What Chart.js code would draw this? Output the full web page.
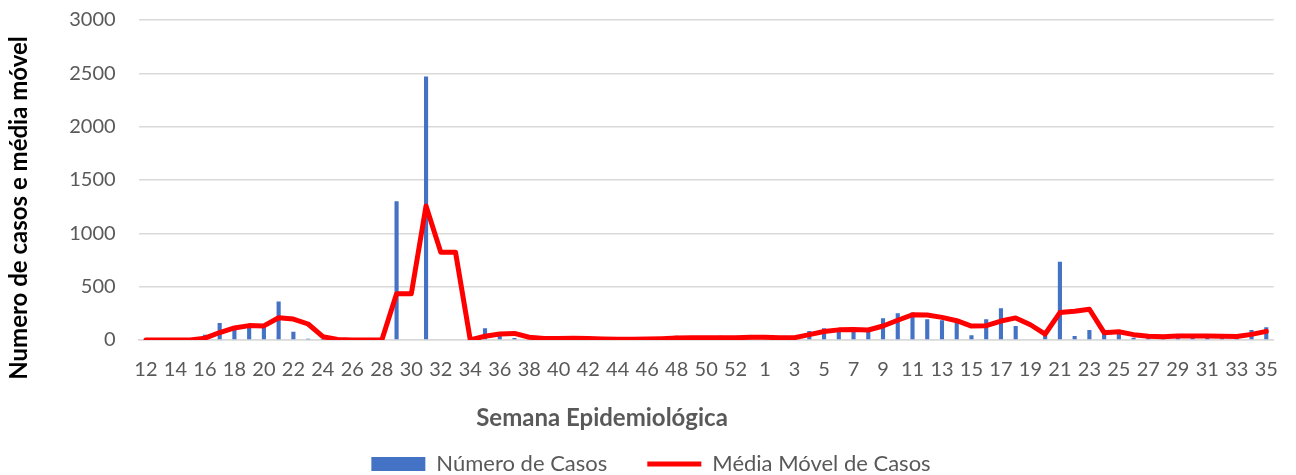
<!DOCTYPE html>
<html>
<head>
<meta charset="utf-8">
<script src="https://cdn.jsdelivr.net/npm/chart.js@4/dist/chart.umd.min.js"></script>
<style>
  html, body { margin: 0; padding: 0; background: #fff; }
  #wrap { width: 1296px; height: 475px; }
</style>
</head>
<body>
<div id="wrap"><canvas id="casosChart"></canvas></div>
<script>
// semanas epidemiologicas: 12..53 de 2020, 1..35 de 2021
const semanas = [
  "12","13","14","15","16","17","18","19","20","21","22","23","24","25","26","27","28","29","30","31",
  "32","33","34","35","36","37","38","39","40","41","42","43","44","45","46","47","48","49","50","51",
  "52","53",
  "1","2","3","4","5","6","7","8","9","10","11","12","13","14","15","16","17","18","19","20",
  "21","22","23","24","25","26","27","28","29","30","31","32","33","34","35"
];

const numeroCasos = [
  0, 0, 0, 0, 50, 160, 130, 115, 150, 360, 78, 12, 3, 0, 0, 0, 0, 1300, 0, 2470,
  0, 0, 0, 109, 59, 18, 0, 27, 15, 5, 22, 3, 0, 22, 5, 10, 40, 10, 12, 40,
  12, 22,
  40, 5, 22, 84, 109, 95, 90, 100, 203, 251, 257, 194, 185, 164, 44, 194, 297, 131, 0, 37,
  734, 37, 94, 76, 64, 20, 35, 35, 40, 40, 30, 35, 30, 94, 119
];

const mediaMovel = [
  0, 0, 0, 0, 17, 70, 113, 135, 132, 208, 196, 150, 31, 5, 0, 0, 0, 433, 433, 1257,
  823, 823, 0, 36, 56, 62, 26, 15, 14, 16, 14, 10, 8, 8, 9, 12, 18, 20, 21, 21,
  21, 25,
  25, 22, 22, 50, 80, 95, 98, 94, 131, 185, 237, 234, 212, 181, 131, 134, 178, 207, 143, 56,
  257, 269, 288, 69, 78, 50, 35, 30, 37, 38, 37, 35, 32, 53, 81
];

const yTicks = [0, 500, 1000, 1500, 2000, 2500, 3000];
const tituloX = "Semana Epidemiológica";
const tituloY = "Numero de casos e média móvel";

const FONT = "Lato, 'Open Sans', sans-serif";
const GREY = "#595959";

// axis titles are not centred on the plot in the original, so draw them here
const axisTitles = {
  id: "axisTitles",
  afterLayout(chart) {
    // nudge the legend a bit lower and right, like the original
    chart.legend.top += 10;
    chart.legend.bottom += 10;
    chart.legend.left += 12;
    chart.legend.right += 12;
  },
  afterDraw(chart) {
    const ctx = chart.ctx;
    ctx.save();
    ctx.font = "bold 24px " + FONT;
    ctx.textAlign = "center";
    ctx.textBaseline = "middle";
    ctx.fillStyle = GREY;
    ctx.fillText(tituloX, 602, 418);
    ctx.translate(19, 208);
    ctx.rotate(-Math.PI / 2);
    ctx.fillStyle = "#000";
    ctx.fillText(tituloY, 0, 0);
    ctx.restore();
  }
};

new Chart(document.getElementById("casosChart"), {
  data: {
    labels: semanas,
    datasets: [
      {
        type: "bar",
        label: "Número de Casos",
        data: numeroCasos,
        backgroundColor: "#4472C4",
        barPercentage: 0.28,
        categoryPercentage: 1,
        order: 1
      },
      {
        type: "line",
        label: "Média Móvel de Casos",
        data: mediaMovel,
        borderColor: "#FF0000",
        backgroundColor: "#FF0000",
        borderWidth: 5,
        pointRadius: 0,
        tension: 0,
        borderJoinStyle: "round",
        borderCapStyle: "round",
        order: 0
      }
    ]
  },
  plugins: [axisTitles],
  options: {
    responsive: true,
    maintainAspectRatio: false,
    animation: false,
    layout: { padding: { top: 20, right: 18, left: 0, bottom: 0 } },
    plugins: {
      tooltip: { enabled: false },
      legend: {
        position: "bottom",
        labels: {
          usePointStyle: true,
          pointStyleWidth: 54,
          boxHeight: 14,
          padding: 40,
          color: GREY,
          font: { family: FONT, size: 22 },
          sort: (a, b) => a.datasetIndex - b.datasetIndex,
          generateLabels(chart) {
            const items = Chart.defaults.plugins.legend.labels.generateLabels(chart);
            items.forEach(it => {
              if (it.datasetIndex === 0) {
                it.pointStyle = "rect";
                it.lineWidth = 0;
              } else {
                it.pointStyle = "line";
                it.lineWidth = 5;
                it.strokeStyle = "#FF0000";
              }
            });
            return items;
          }
        }
      }
    },
    scales: {
      x: {
        offset: true,
        grid: { display: false, drawTicks: false },
        border: { display: true, color: "#D9D9D9", width: 1.5 },
        ticks: {
          autoSkip: false,
          maxRotation: 0,
          minRotation: 0,
          padding: 18,
          color: GREY,
          font: { family: FONT, size: 20 },
          callback: (v, i) => (i % 2 === 0 ? semanas[i] : "")
        },
        afterFit: scale => { scale.height = 63; }
      },
      y: {
        min: 0,
        max: 3000,
        afterBuildTicks: scale => { scale.ticks = yTicks.map(v => ({ value: v })); },
        grid: { color: "#D9D9D9", lineWidth: 1.5, drawTicks: false },
        border: { display: false },
        ticks: {
          padding: 23,
          color: GREY,
          font: { family: FONT, size: 20 },
          callback: v => String(v)
        },
        afterFit: scale => {
          scale.width = 138.6;
          scale.paddingTop = 0;
          scale.paddingBottom = 0;
        }
      }
    }
  }
});
</script>
</body>
</html>
